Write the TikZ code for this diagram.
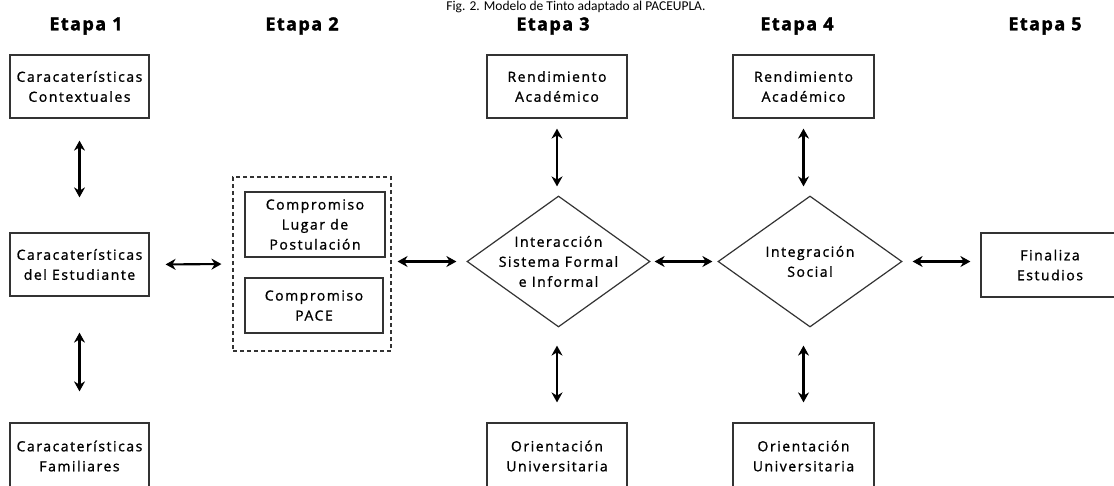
\documentclass[tikz,border=0pt]{standalone}
\usepackage{fontspec}
\setmainfont{Open Sans}[LetterSpace=11, FakeBold=1.2]
\newfontfamily\headfont{Open Sans}[LetterSpace=8, BoldFeatures={FakeBold=1.8}]
\newfontfamily\titlefont{Carlito}
\usetikzlibrary{shapes.geometric,arrows.meta}
\tikzset{
  boxnode/.style={draw=black!80, line width=1.2pt, rectangle, inner sep=0pt,
    align=center, font=\fontsize{14}{20}\selectfont},
  diamondnode/.style={draw=black!80, line width=1.2pt, diamond, inner sep=0pt},
  dtext/.style={align=center, font=\fontsize{14}{20}\selectfont},
  headnode/.style={font=\headfont\bfseries\fontsize{18}{20}\selectfont},
  conn/.style={line width=2.1pt, {Stealth[length=10pt,width=11pt]}-{Stealth[length=10pt,width=11pt]}},
  dashbox/.style={draw=black!80, line width=1.1pt, dash pattern=on 4pt off 3pt}
}
\begin{document}
\begin{tikzpicture}[x=1pt,y=-1pt]
\useasboundingbox (0,0) rectangle (1114,485);
\clip (0,0) rectangle (1114,485);
\fill[white] (0,0) rectangle (1114,485);
% title
\node[font=\titlefont\fontsize{13.5}{15}\selectfont, anchor=base] (title) at (576,10.5) {Fig. 2. Modelo de Tinto adaptado al PACEUPLA.};
% headings
\node[headnode] (h1) at (86,26) {Etapa 1};
\node[headnode] (h2) at (302,26) {Etapa 2};
\node[headnode] (h3) at (553,26) {Etapa 3};
\node[headnode] (h4) at (797,26) {Etapa 4};
\node[headnode] (h5) at (1045,26) {Etapa 5};
% column 1
\node[boxnode, minimum width=139pt, minimum height=63pt] (ctx) at (79.5,86.5) {Caracaterísticas\\Contextuales};
\node[boxnode, minimum width=139pt, minimum height=63pt] (est) at (79.5,264.5) {Caracaterísticas\\del Estudiante};
\node[boxnode, minimum width=139pt, minimum height=66pt] (fam) at (79.5,456) {Caracaterísticas\\Familiares};
% column 2
\node[dashbox, minimum width=158pt, minimum height=174pt, inner sep=0pt] (dash) at (312,264) {};
\node[boxnode, minimum width=140pt, minimum height=65pt] (lugar) at (315,224.5) {Compromiso\\Lugar de\\Postulación};
\node[boxnode, minimum width=138pt, minimum height=55pt] (pace) at (314,305.5) {Compromiso\\PACE};
% column 3
\node[boxnode, minimum width=140pt, minimum height=63pt] (rend3) at (557,86.5) {Rendimiento\\Académico};
\node[diamondnode, minimum width=183pt, minimum height=131pt] (d3) at (558.5,261.5) {};
\node[dtext] (d3t) at (d3) {Interacción\\Sistema Formal\\e Informal};
\node[boxnode, minimum width=140pt, minimum height=66pt] (or3) at (557,456) {Orientación\\Universitaria};
% column 4
\node[boxnode, minimum width=141pt, minimum height=63pt] (rend4) at (803.5,86.5) {Rendimiento\\Académico};
\node[diamondnode, minimum width=184pt, minimum height=131pt] (d4) at (810,261.5) {};
\node[dtext] (d4t) at (d4) {Integración\\Social};
\node[boxnode, minimum width=141pt, minimum height=66pt] (or4) at (803.5,456) {Orientación\\Universitaria};
% column 5
\node[boxnode, minimum width=150pt, minimum height=64pt] (fin) at (1056,265) {};
\node[dtext, anchor=center] (fint) at (1050,265) {Finaliza\\Estudios};
% connectors
\draw[conn, shorten <=22pt, shorten >=35pt] (ctx.south) -- (est.north);
\draw[conn, shorten <=36pt, shorten >=31pt] (est.south) -- (fam.north);
\draw[conn, shorten <=16pt, shorten >=11pt] (est.east) -- (dash.west);
\draw[conn, shorten <=6pt, shorten >=10pt] (dash.east |- d3.west) -- (d3.west);
\draw[conn, shorten <=4pt, shorten >=5pt] (d3.east) -- (d4.west);
\draw[conn, shorten <=10pt, shorten >=10pt] (d4.east) -- (fin.west |- d4.east);
\draw[conn, shorten <=10pt, shorten >=9pt] (rend3.south) -- (rend3.south |- d3.north);
\draw[conn, shorten <=18pt, shorten >=20pt] (rend3.south |- d3.south) -- (or3.north);
\draw[conn, shorten <=10pt, shorten >=9pt] (rend4.south) -- (rend4.south |- d4.north);
\draw[conn, shorten <=18pt, shorten >=20pt] (rend4.south |- d4.south) -- (or4.north);
\end{tikzpicture}
\end{document}
